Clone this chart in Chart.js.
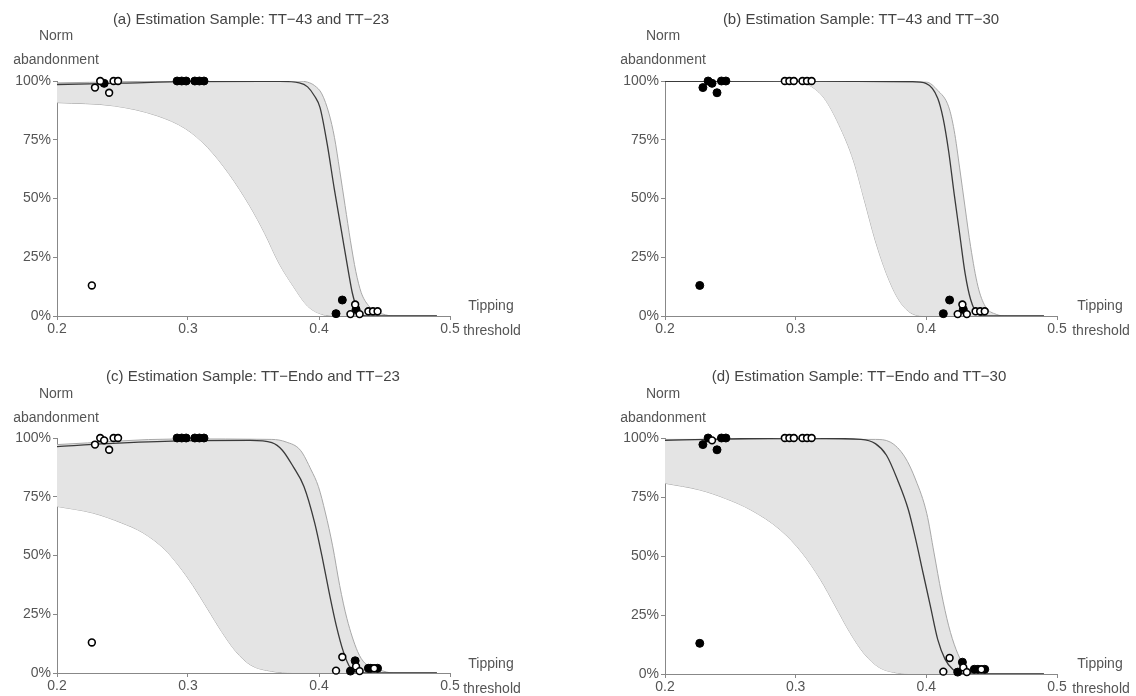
<!DOCTYPE html>
<html>
<head>
<meta charset="utf-8">
<script src="https://cdn.jsdelivr.net/npm/chart.js@4"></script>
<style>
  body { margin: 0; background: #fff; width: 1136px; height: 696px; overflow: hidden; position: relative; font-family: "Liberation Sans", Arial, sans-serif; }
  .panel { position: absolute; }
  .lbl { position: absolute; color: #555; font-size: 14px; white-space: nowrap; transform: translate(-50%, -50%); }
  .ttl { position: absolute; color: #444; font-size: 15px; white-space: nowrap; transform: translate(-50%, -50%); }
</style>
</head>
<body>

<script>
// axis ticks
const xTicks = [0.2, 0.3, 0.4, 0.5];
const yTicks = [0, 25, 50, 75, 100];

// (a) TT-43 and TT-23
const upperA = [[0.2,99.2],[0.3,100],[0.385,100],[0.3913,99.5],[0.3967,98],[0.4022,94.5],[0.4077,86],[0.4118,76],[0.4158,62],[0.4199,47],[0.424,32],[0.4281,19],[0.4322,10],[0.4377,4.5],[0.4432,2],[0.4487,0.8],[0.4568,0],[0.49,0]];
const medianA = [[0.2,98.5],[0.25,99.1],[0.3,99.7],[0.37,99.8],[0.385,99.2],[0.3913,97.5],[0.3967,93.5],[0.4008,88.7],[0.4063,73],[0.4117,54],[0.4172,36],[0.4227,18],[0.4254,9.9],[0.4295,2.5],[0.4322,0.5],[0.436,0],[0.49,0]];
const lowerA = [[0.2,90.8],[0.2437,89.4],[0.2765,85.2],[0.2984,79.6],[0.3148,71.8],[0.3311,60.6],[0.3475,46.5],[0.3585,35.2],[0.3694,22.5],[0.3803,12.7],[0.3913,4.2],[0.4022,0.7],[0.4131,0],[0.49,0]];
const filledA = [[0.236,99],[0.2917,100],[0.2952,100],[0.2986,100],[0.3052,100],[0.3087,100],[0.3122,100],[0.413,1],[0.4178,6.8],[0.4283,2.8]];
const hollowA = [[0.2266,13],[0.229,97.2],[0.233,100],[0.2398,95],[0.2432,100],[0.2466,100],[0.4276,4.9],[0.424,0.8],[0.431,0.8],[0.4377,2],[0.4412,2],[0.4447,2]];

// (b) TT-43 and TT-30
const upperB = [[0.2,100],[0.4,99.5],[0.4087,96],[0.4171,89],[0.4213,79],[0.4255,63],[0.4297,46],[0.4339,29.5],[0.4395,12.6],[0.445,4.2],[0.4535,0.7],[0.462,0],[0.49,0]];
const medianB = [[0.2,99.8],[0.3,100],[0.389,99.7],[0.4,98.9],[0.4087,92.7],[0.4129,84],[0.4171,70],[0.4213,52],[0.4255,35],[0.4297,18],[0.4339,7],[0.4395,0.7],[0.445,0],[0.49,0]];
const lowerB = [[0.2,100],[0.3,100],[0.311,98],[0.3218,92.7],[0.333,81.5],[0.3443,66],[0.3527,49],[0.361,32],[0.3695,18],[0.378,7.7],[0.3863,2],[0.3975,0],[0.49,0]];
const filledB = [[0.2266,13],[0.229,97.2],[0.233,100],[0.236,99],[0.2398,95],[0.2432,100],[0.2466,100],[0.413,1],[0.4178,6.8],[0.4283,2.8]];
const hollowB = [[0.2917,100],[0.2952,100],[0.2986,100],[0.3052,100],[0.3087,100],[0.3122,100],[0.4276,4.9],[0.424,0.8],[0.431,0.8],[0.4377,2],[0.4412,2],[0.4447,2]];

// (c) TT-Endo and TT-23
const upperC = [[0.2,97.2],[0.293,99.6],[0.364,99.4],[0.3749,98.3],[0.3858,94.8],[0.394,86.4],[0.3995,79.4],[0.4049,68.1],[0.4104,54.1],[0.4158,37.2],[0.4213,23.2],[0.4295,9.1],[0.435,4.2],[0.4459,1.4],[0.4568,0],[0.49,0]];
const medianC = [[0.2,96.3],[0.2383,97.6],[0.293,98.8],[0.3475,99],[0.364,98],[0.372,94.8],[0.3803,87.8],[0.3885,79.4],[0.3967,63.9],[0.4022,49.9],[0.4077,34.4],[0.4131,20.4],[0.4186,9.1],[0.424,2.1],[0.4295,0.3],[0.44,0],[0.49,0]];
const lowerC = [[0.2,70.9],[0.2273,68.1],[0.2492,63.9],[0.2656,59.7],[0.282,52.7],[0.293,45.6],[0.3038,37.2],[0.3148,27.4],[0.3257,17.6],[0.3366,9.1],[0.3475,3.5],[0.364,0.7],[0.38,0],[0.49,0]];
const filledC = [[0.2917,100],[0.2952,100],[0.2986,100],[0.3052,100],[0.3087,100],[0.3122,100],[0.4276,5.2],[0.424,0.8],[0.4377,2],[0.4395,2],[0.4447,2]];
const hollowC = [[0.2266,13],[0.229,97.2],[0.233,100],[0.236,99],[0.2398,95],[0.2432,100],[0.2466,100],[0.413,1],[0.4178,6.8],[0.4283,2.8],[0.431,0.8],[0.4421,2]];

// (d) TT-Endo and TT-30
const upperD = [[0.2,99.4],[0.361,99.4],[0.3723,98.3],[0.3835,92],[0.3919,82.2],[0.4003,68.1],[0.4059,51.3],[0.4115,34.4],[0.4171,20.4],[0.4227,10.5],[0.4283,4.2],[0.4367,1.4],[0.4479,0],[0.49,0]];
const medianD = [[0.2,99],[0.3,100],[0.35,99.4],[0.361,97.6],[0.3695,92.7],[0.378,82.2],[0.3863,69.5],[0.3919,56.9],[0.3975,42.8],[0.4031,28.8],[0.4087,14.7],[0.4143,6.3],[0.42,2.1],[0.4255,0.3],[0.44,0],[0.49,0]];
const lowerD = [[0.2,80.8],[0.2266,78],[0.2462,74.4],[0.2658,69.5],[0.2882,61.1],[0.305,51.3],[0.319,40],[0.3303,28.8],[0.3415,17.6],[0.3527,8.4],[0.3639,2.8],[0.375,0.7],[0.3863,0],[0.49,0]];
const filledD = [[0.2266,13],[0.229,97.2],[0.233,100],[0.2398,95],[0.2432,100],[0.2466,100],[0.4276,5],[0.424,0.8],[0.4367,2],[0.4395,2],[0.4447,2]];
const hollowD = [[0.236,99],[0.2917,100],[0.2952,100],[0.2986,100],[0.3052,100],[0.3087,100],[0.3122,100],[0.413,1],[0.4178,6.8],[0.4283,2.8],[0.431,0.8],[0.4421,2]];

const panels = [
  { title: '(a) Estimation Sample: TT\u221243 and TT\u221223', up: upperA, med: medianA, lo: lowerA, filled: filledA, hollow: hollowA,
    box: [0, 0, 560, 340], area: [57, 450, 81, 316], titleAt: [251, 18], yLabAt: [56, 35], xLabAt: [491, 305] },
  { title: '(b) Estimation Sample: TT\u221243 and TT\u221230', up: upperB, med: medianB, lo: lowerB, filled: filledB, hollow: hollowB,
    box: [560, 0, 576, 340], area: [665, 1057, 81, 316], titleAt: [861, 18], yLabAt: [663, 35], xLabAt: [1100, 305] },
  { title: '(c) Estimation Sample: TT\u2212Endo and TT\u221223', up: upperC, med: medianC, lo: lowerC, filled: filledC, hollow: hollowC,
    box: [0, 340, 560, 356], area: [57, 450, 438, 673], titleAt: [253, 375], yLabAt: [56, 393], xLabAt: [491, 663] },
  { title: '(d) Estimation Sample: TT\u2212Endo and TT\u221230', up: upperD, med: medianD, lo: lowerD, filled: filledD, hollow: hollowD,
    box: [560, 340, 576, 356], area: [665, 1057, 438, 674], titleAt: [859, 375], yLabAt: [663, 393], xLabAt: [1100, 663] }
];

function xy(arr) {
  return arr.map(p => ({ x: p[0], y: p[1] }));
}

function addText(cls, text, x, y) {
  const d = document.createElement('div');
  d.className = cls;
  d.textContent = text;
  d.style.left = x + 'px';
  d.style.top = y + 'px';
  document.body.appendChild(d);
}

panels.forEach(function (p) {
  const [bx, by, bw, bh] = p.box;
  const [al, ar, at, ab] = p.area;

  const canvas = document.createElement('canvas');
  canvas.className = 'panel';
  canvas.width = bw;
  canvas.height = bh;
  canvas.style.left = bx + 'px';
  canvas.style.top = by + 'px';
  canvas.style.width = bw + 'px';
  canvas.style.height = bh + 'px';
  document.body.appendChild(canvas);

  new Chart(canvas, {
    type: 'line',
    data: {
      datasets: [
        { data: xy(p.up), borderColor: '#a8a8a8', borderWidth: 1, backgroundColor: '#e4e4e4',
          fill: '+1', pointRadius: 0, cubicInterpolationMode: 'monotone', order: 3 },
        { data: xy(p.lo), borderColor: '#a8a8a8', borderWidth: 1, fill: false,
          pointRadius: 0, cubicInterpolationMode: 'monotone', order: 3 },
        { data: xy(p.med), borderColor: '#3a3a3a', borderWidth: 1.3, fill: false,
          pointRadius: 0, cubicInterpolationMode: 'monotone', order: 2 },
        { data: xy(p.filled), showLine: false, pointRadius: 4, pointBorderWidth: 1,
          pointBackgroundColor: '#000', pointBorderColor: '#000', clip: false, order: 1 },
        { data: xy(p.hollow), showLine: false, pointRadius: 3.4, pointBorderWidth: 1.6,
          pointBackgroundColor: '#fff', pointBorderColor: '#000', clip: false, order: 0 }
      ]
    },
    options: {
      responsive: false,
      animation: false,
      devicePixelRatio: 1,
      layout: { padding: { left: 0, right: bw - (ar - bx), top: at - by, bottom: 0 } },
      plugins: { legend: { display: false }, tooltip: { enabled: false }, title: { display: false } },
      scales: {
        x: {
          type: 'linear', min: 0.2, max: 0.5,
          afterBuildTicks: s => { s.ticks = xTicks.map(v => ({ value: v })); },
          afterFit: s => { s.height = bh - (ab - by); },
          ticks: { color: '#555', font: { size: 14, family: '"Liberation Sans", Arial, sans-serif' }, padding: 1,
                   maxRotation: 0, callback: v => Number(v).toFixed(1) },
          grid: { drawOnChartArea: false, tickLength: 4, color: '#888' },
          border: { color: '#888' }
        },
        y: {
          type: 'linear', min: 0, max: 100,
          afterBuildTicks: s => { s.ticks = yTicks.map(v => ({ value: v })); },
          afterFit: s => { s.width = al - bx; },
          ticks: { color: '#555', font: { size: 14, family: '"Liberation Sans", Arial, sans-serif' }, padding: 2,
                   callback: v => v + '%' },
          grid: { drawOnChartArea: false, tickLength: 4, color: '#888' },
          border: { color: '#888' }
        }
      }
    }
  });

  addText('ttl', p.title, p.titleAt[0], p.titleAt[1]);
  addText('lbl', 'Norm', p.yLabAt[0], p.yLabAt[1]);
  addText('lbl', 'abandonment', p.yLabAt[0], p.yLabAt[1] + 24);
  addText('lbl', 'Tipping', p.xLabAt[0], p.xLabAt[1]);
  addText('lbl', 'threshold', p.xLabAt[0] + 1, p.xLabAt[1] + 25);
});
</script>
</body>
</html>
